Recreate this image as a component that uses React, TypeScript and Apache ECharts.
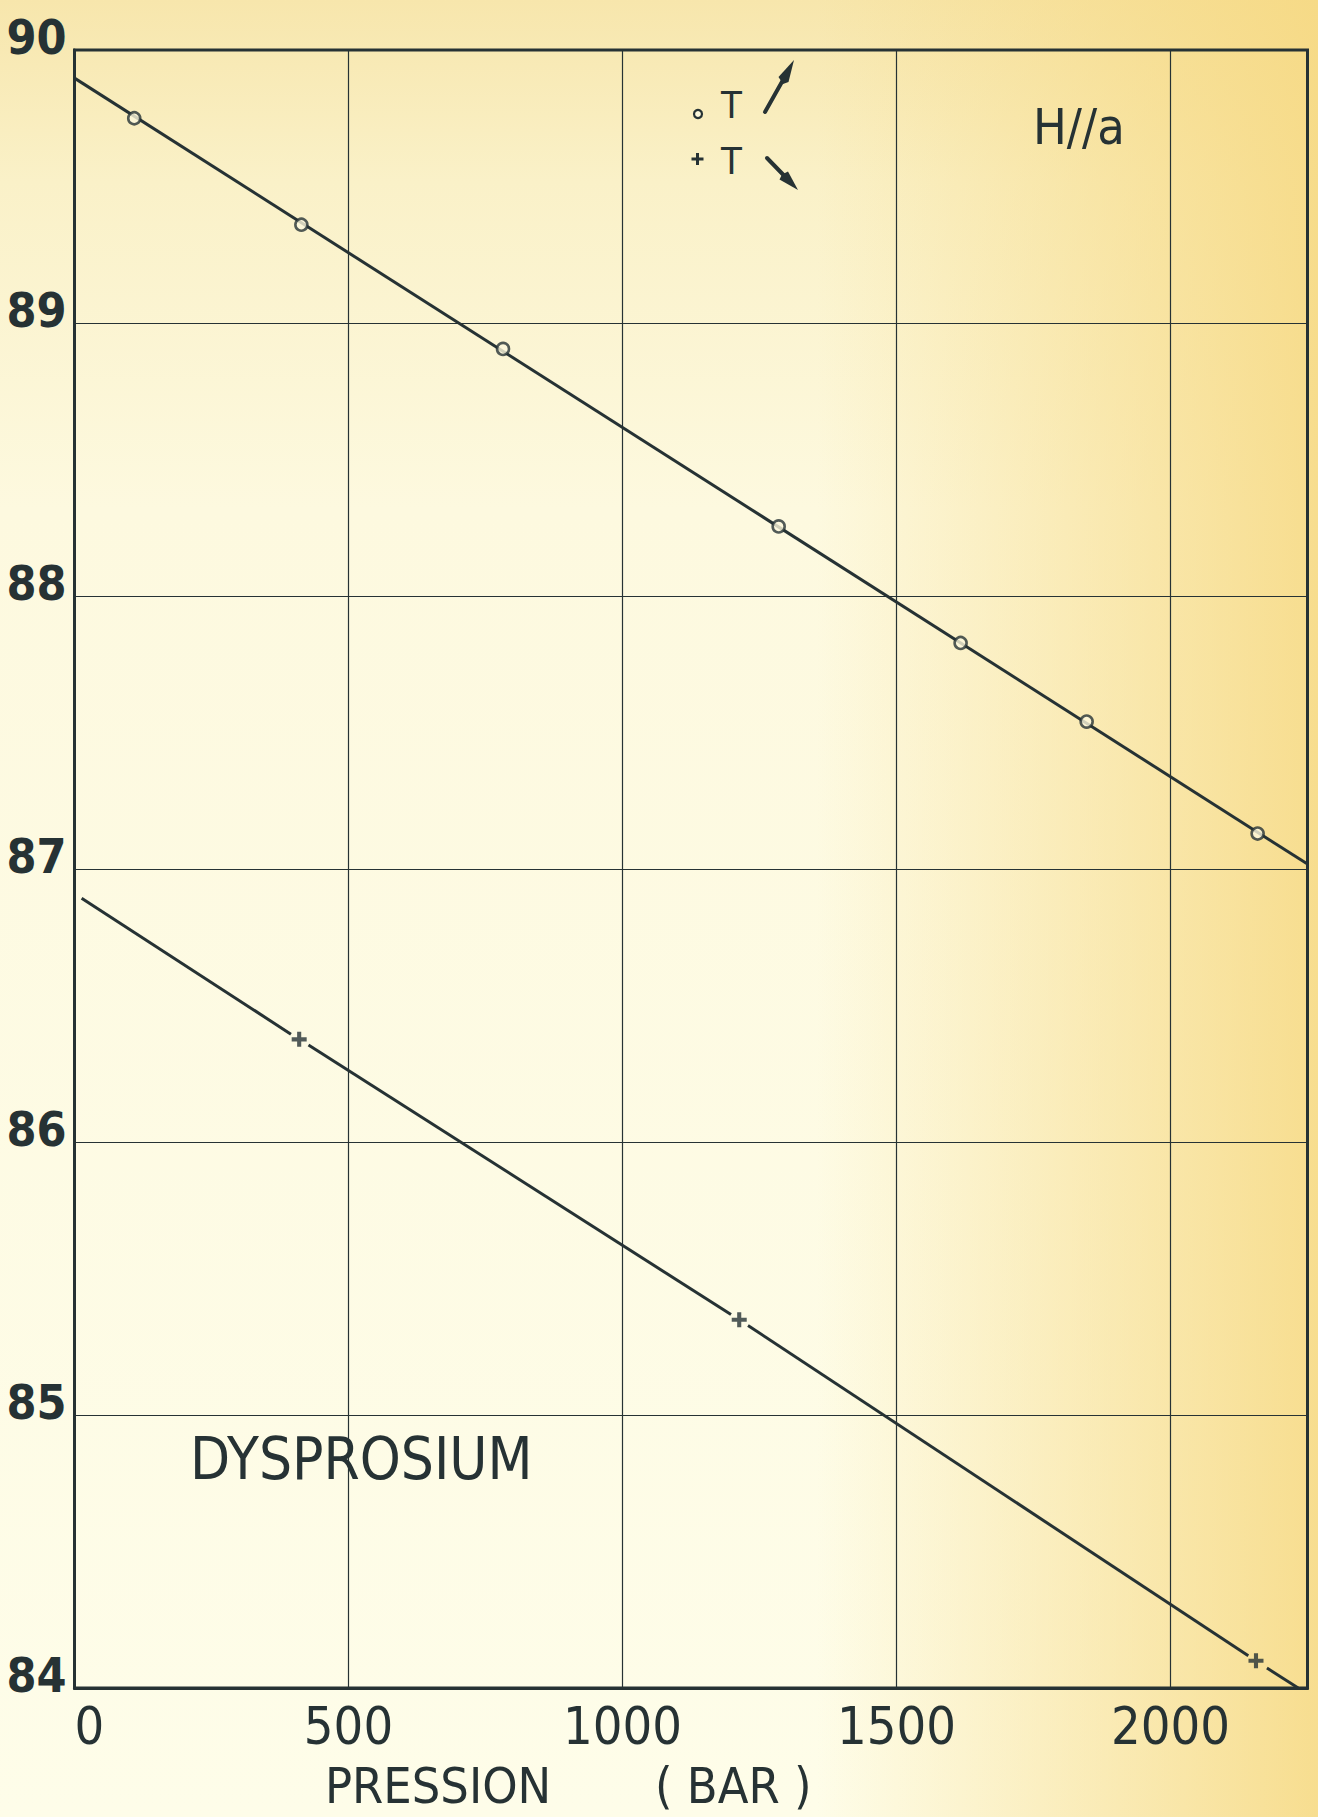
import React, { useEffect, useRef } from "react";
import * as echarts from "echarts";

// Tick values and labels
const xTicks = [0, 500, 1000, 1500, 2000];
const xTickLabels = ["0", "500", "1000", "1500", "2000"];
const yTicks = [84, 85, 86, 87, 88, 89, 90];
const yTickLabels = ["84", "85", "86", "87", "88", "89", "90"];

// Series "o T ↗" (circles)
const circlePressure = [109, 414, 782, 1285, 1617, 1847, 2159];
const circleAngle = [89.75, 89.36, 88.905, 88.255, 87.828, 87.54, 87.13];
const circleFitPressure = [0, 2250];
const circleFitAngle = [89.897, 87.018];

// Series "+ T ↘" (crosses)
const crossPressure = [410, 1213, 2156];
const crossAngle = [86.376, 85.349, 84.1];
// fitted line drawn in pieces (gaps around the crosses)
const crossFitSeg1 = [[13, 86.893], [395, 86.395]];
const crossFitSeg2 = [[427, 86.355], [1198, 85.368]];
const crossFitSeg3 = [[1229, 85.328], [2142, 84.118]];
const crossFitSeg4 = [[2176, 84.073], [2233, 84.0]];

const INK = "#263234";
const PAPER = "#fcf8dc";
const FONT = "'DejaVu Sans Condensed', 'DejaVu Sans', sans-serif";
const PLUS = "path://M4,0h3v4h4v3h-4v4h-3v-4h-4v-3h4z";

export default function App() {
  const ref = useRef<HTMLDivElement>(null);
  useEffect(() => {
    if (!ref.current) return;
    const chart = echarts.init(ref.current, null, { renderer: "svg" });
    const segStyle = { color: INK, width: 3 };
    const segSeries = [crossFitSeg1, crossFitSeg2, crossFitSeg3, crossFitSeg4].map((seg, i) => ({
      type: "line",
      name: "fit+" + i,
      data: seg,
      showSymbol: false,
      lineStyle: segStyle,
      z: 2,
    }));
    chart.setOption({
      animation: false,
      backgroundColor: "transparent",
      grid: {
        left: 74.5,
        top: 50,
        right: 10.5,
        bottom: 129,
        show: true,
        borderColor: INK,
        borderWidth: 3,
        backgroundColor: "transparent",
      },
      xAxis: {
        type: "value",
        min: 0,
        max: 2250,
        interval: 500,
        axisLine: { show: true, lineStyle: { color: INK, width: 3 } },
        axisTick: { show: false },
        splitLine: { show: true, lineStyle: { color: INK, width: 1.2 } },
        axisLabel: {
          margin: 12,
          color: INK,
          fontFamily: FONT,
          fontSize: 52,
          alignMinLabel: "left",
          formatter: (v: number) => {
            const i = xTicks.indexOf(v);
            return i < 0 ? "" : xTickLabels[i];
          },
        },
      },
      yAxis: {
        type: "value",
        min: 84,
        max: 90,
        interval: 1,
        axisLine: { show: true, lineStyle: { color: INK, width: 3 } },
        axisTick: { show: false },
        splitLine: { show: true, lineStyle: { color: INK, width: 1.2 } },
        axisLabel: {
          margin: 8,
          color: INK,
          fontFamily: FONT,
          fontWeight: "bold",
          fontSize: 48,
          verticalAlign: "bottom",
          lineHeight: 26,
          formatter: (v: number) => {
            const i = yTicks.indexOf(v);
            return i < 0 ? "" : yTickLabels[i];
          },
        },
      },
      series: [
        {
          type: "line",
          name: "fit o",
          data: circleFitPressure.map((x, i) => [x, circleFitAngle[i]]),
          showSymbol: false,
          lineStyle: { color: INK, width: 3 },
          z: 2,
        },
        ...segSeries,
        {
          type: "scatter",
          name: "o T",
          data: circlePressure.map((x, i) => [x, circleAngle[i]]),
          symbol: "circle",
          symbolSize: 12,
          itemStyle: { color: PAPER, borderColor: INK, borderWidth: 2.6 },
          z: 3,
        },
        {
          type: "scatter",
          name: "+ T",
          data: crossPressure.map((x, i) => [x, crossAngle[i]]),
          symbol: PLUS,
          symbolSize: 15,
          itemStyle: { color: INK },
          z: 3,
        },
      ],
      graphic: [
        {
          type: "text",
          x: 190,
          y: 1459,
          style: { text: "DYSPROSIUM", fill: INK, fontFamily: FONT, fontSize: 58, align: "left", verticalAlign: "middle" },
        },
        {
          type: "text",
          x: 325,
          y: 1786,
          style: { text: "PRESSION", fill: INK, fontFamily: FONT, fontSize: 50, align: "left", verticalAlign: "middle" },
        },
        {
          type: "text",
          x: 655,
          y: 1786,
          style: { text: "( BAR )", fill: INK, fontFamily: FONT, fontSize: 50, align: "left", verticalAlign: "middle" },
        },
        {
          type: "text",
          x: 1033,
          y: 127,
          style: { text: "H//a", fill: INK, fontFamily: FONT, fontSize: 50, align: "left", verticalAlign: "middle" },
        },
        {
          type: "text",
          x: 721,
          y: 105,
          style: { text: "T", fill: INK, fontFamily: FONT, fontSize: 38, align: "left", verticalAlign: "middle" },
        },
        {
          type: "text",
          x: 721,
          y: 161,
          style: { text: "T", fill: INK, fontFamily: FONT, fontSize: 38, align: "left", verticalAlign: "middle" },
        },
        {
          type: "circle",
          shape: { cx: 698, cy: 114, r: 4 },
          style: { fill: PAPER, stroke: INK, lineWidth: 2.2 },
        },
        {
          type: "polygon",
          shape: { points: [[696, 153], [699, 153], [699, 157.5], [703.5, 157.5], [703.5, 160.5], [699, 160.5], [699, 165], [696, 165], [696, 160.5], [691.5, 160.5], [691.5, 157.5], [696, 157.5]] },
          style: { fill: INK },
        },
        {
          type: "line",
          shape: { x1: 765, y1: 112, x2: 783, y2: 80 },
          style: { stroke: INK, lineWidth: 4, lineCap: "round" },
        },
        {
          type: "polygon",
          shape: { points: [[794, 60], [788.5, 82], [783, 84], [778.5, 77]] },
          style: { fill: INK },
        },
        {
          type: "line",
          shape: { x1: 767, y1: 158, x2: 784, y2: 175.5 },
          style: { stroke: INK, lineWidth: 4, lineCap: "round" },
        },
        {
          type: "polygon",
          shape: { points: [[798, 190], [779.5, 179.5], [782, 174.5], [788, 171.5]] },
          style: { fill: INK },
        },
      ],
    });
    return () => chart.dispose();
  }, []);
  return (
    <div
      style={{
        position: "absolute",
        left: 0,
        top: 0,
        width: 1318,
        height: 1817,
        background:
          "linear-gradient(to right, rgba(247,222,140,0) 0%, rgba(247,222,140,0) 62%, rgba(246,216,128,0.85) 100%), linear-gradient(to bottom, #f7e6ac 0%, #faf1c8 10%, #fdf9df 28%, #fefde9 100%)",
      }}
    >
      <div ref={ref} style={{ width: 1318, height: 1817 }} />
    </div>
  );
}
